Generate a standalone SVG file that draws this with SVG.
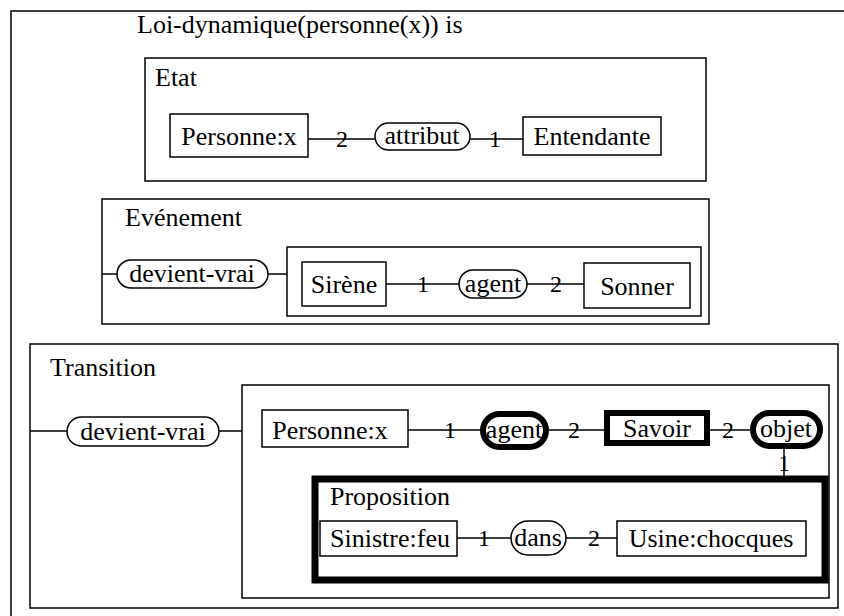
<svg xmlns="http://www.w3.org/2000/svg" width="844" height="616" viewBox="0 0 844 616">
  <style>
    text { font-family: "Liberation Serif", "Times New Roman", serif; fill: #000; }
    .lbl { font-size: 26px; }
    .nt { font-size: 26px; text-anchor: middle; }
    .num { font-size: 24px; text-anchor: middle; }
    .frame { fill: none; stroke: #000; stroke-width: 1.5; }
    .box { fill: #fff; stroke: #000; stroke-width: 1.5; }
    .thick { fill: #fff; stroke: #000; stroke-width: 6; }
    .link { fill: none; stroke: #000; stroke-width: 1.5; }
  </style>
  <rect width="844" height="616" fill="#fff"/>

  <!-- outer context -->
  <g id="loi">
    <rect class="frame" x="11" y="11" width="840" height="620"/>
    <text class="lbl" x="137" y="33" font-size="26.5">Loi-dynamique(personne(x)) is</text>
  </g>

  <!-- Etat -->
  <g id="etat">
    <rect class="frame" x="145" y="58" width="561" height="123"/>
    <text class="lbl" x="155" y="86">Etat</text>
  </g>

  <!-- Evenement -->
  <g id="evenement">
    <rect class="frame" x="102" y="199" width="607" height="125"/>
    <text class="lbl" x="125" y="226">Evénement</text>
  </g>
  <g id="ev-situation">
    <rect class="frame" x="287" y="247" width="414" height="69"/>
  </g>

  <!-- Transition -->
  <g id="transition">
    <rect class="frame" x="30" y="344" width="808" height="264"/>
    <text class="lbl" x="50" y="376">Transition</text>
  </g>
  <g id="tr-situation">
    <rect class="frame" x="242" y="385" width="587" height="213"/>
  </g>

  <!-- Proposition (nested context, heavy outline) -->
  <g id="proposition">
    <rect x="315" y="479" width="510" height="101" fill="none" stroke="#000" stroke-width="7"/>
    <text class="lbl" x="330" y="505">Proposition</text>
  </g>

  <!-- connectors -->
  <g id="connectors">
    <line class="link" x1="308" y1="139" x2="375" y2="139"/>
    <line class="link" x1="470" y1="139" x2="523" y2="139"/>
    <line class="link" x1="102" y1="274" x2="117" y2="274"/>
    <line class="link" x1="268" y1="274" x2="287" y2="274"/>
    <line class="link" x1="386" y1="284" x2="459" y2="284"/>
    <line class="link" x1="527" y1="284" x2="584" y2="284"/>
    <line class="link" x1="30" y1="431" x2="67" y2="431"/>
    <line class="link" x1="219" y1="431" x2="242" y2="431"/>
    <line class="link" x1="408" y1="430" x2="483" y2="430"/>
    <line class="link" x1="546" y1="430" x2="607" y2="430"/>
    <line class="link" x1="707" y1="430" x2="753" y2="430"/>
    <line class="link" x1="784" y1="449" x2="784" y2="477"/>
    <line class="link" x1="457" y1="538" x2="511" y2="538"/>
    <line class="link" x1="566" y1="538" x2="617" y2="538"/>
  </g>

  <g id="etat-personne">
    <rect class="box" x="170" y="114" width="138" height="43"/>
    <text class="nt" x="239" y="145">Personne:x</text>
  </g>
  <g id="etat-attribut">
    <rect class="box" x="375" y="123" width="95" height="27" rx="13.5"/>
    <text class="nt" x="422" y="144">attribut</text>
  </g>
  <g id="etat-entendante">
    <rect class="box" x="523" y="117" width="138" height="38"/>
    <text class="nt" x="592" y="145">Entendante</text>
  </g>
  <g id="etat-nums">
    <text class="num" x="342" y="147">2</text>
    <text class="num" x="495" y="147">1</text>
  </g>

  <g id="ev-devient">
    <rect class="box" x="117" y="260" width="151" height="28" rx="14"/>
    <text class="nt" x="192" y="282">devient-vrai</text>
  </g>
  <g id="ev-sirene">
    <rect class="box" x="302" y="262" width="84" height="44"/>
    <text class="nt" x="344" y="293">Sirène</text>
  </g>
  <g id="ev-agent">
    <rect class="box" x="459" y="270" width="68" height="28" rx="14"/>
    <text class="nt" x="493" y="292">agent</text>
  </g>
  <g id="ev-sonner">
    <rect class="box" x="584" y="263" width="106" height="45"/>
    <text class="nt" x="637" y="295">Sonner</text>
  </g>
  <g id="ev-nums">
    <text class="num" x="423" y="292">1</text>
    <text class="num" x="556" y="292">2</text>
  </g>

  <g id="tr-devient">
    <rect class="box" x="67" y="417" width="152" height="29" rx="14.5"/>
    <text class="nt" x="143" y="440">devient-vrai</text>
  </g>
  <g id="tr-personne">
    <rect class="box" x="262" y="410" width="146" height="37"/>
    <text class="nt" x="330" y="439">Personne:x</text>
  </g>
  <g id="tr-agent">
    <rect class="thick" x="483" y="414" width="63" height="33" rx="16.5"/>
    <text class="nt" x="514" y="438">agent</text>
  </g>
  <g id="tr-savoir">
    <rect class="thick" x="607" y="413" width="100" height="30"/>
    <text class="nt" x="657" y="437">Savoir</text>
  </g>
  <g id="tr-objet">
    <rect class="thick" x="753" y="413" width="67" height="33" rx="16.5"/>
    <text class="nt" x="786" y="437">objet</text>
  </g>
  <g id="tr-nums">
    <text class="num" x="450" y="438">1</text>
    <text class="num" x="574" y="438">2</text>
    <text class="num" x="728" y="438">2</text>
    <text class="num" x="784" y="471">1</text>
  </g>

  <g id="pr-sinistre">
    <rect class="box" x="320" y="521" width="137" height="35"/>
    <text class="nt" x="390" y="547">Sinistre:feu</text>
  </g>
  <g id="pr-dans">
    <rect class="box" x="511" y="521" width="55" height="34" rx="17"/>
    <text class="nt" x="538" y="546">dans</text>
  </g>
  <g id="pr-usine">
    <rect class="box" x="617" y="521" width="189" height="35"/>
    <text class="nt" x="711" y="547">Usine:chocques</text>
  </g>
  <g id="pr-nums">
    <text class="num" x="484" y="546">1</text>
    <text class="num" x="594" y="546">2</text>
  </g>
</svg>
